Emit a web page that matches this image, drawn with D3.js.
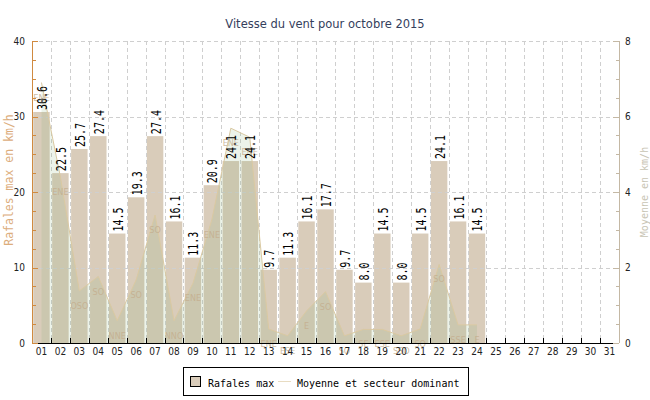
<!DOCTYPE html>
<html><head><meta charset="utf-8">
<script src="https://cdn.jsdelivr.net/npm/d3@7"></script>
<style>body{margin:0;background:#fff}svg{display:block}</style>
</head><body>
<svg id="c" width="650" height="400"></svg>
<script>
const days = ["01","02","03","04","05","06","07","08","09","10","11","12","13","14","15","16","17","18","19","20","21","22","23","24","25","26","27","28","29","30","31"];
const rafales = [30.6,22.5,25.7,27.4,14.5,19.3,27.4,16.1,11.3,20.9,24.1,24.1,9.7,11.3,16.1,17.7,9.7,8.0,14.5,8.0,14.5,24.1,16.1,14.5];
const moyenne = [6.9,4.4,1.38,1.76,0.59,1.67,3.39,0.59,1.58,3.27,5.69,5.45,0.37,0.19,0.85,1.36,0.19,0.36,0.36,0.19,0.37,2.08,0.48,0.48];
const secteurs = ["ENE","ENE","OSO","SO","NNE","SO","SO","NNO","ENE","ENE","ENE","ENE","ENE","ESE","E","SO","SO","SE","ESE","SSO","SO","SO","SSE","E"];
const leftTicks = [0,10,20,30,40];
const rightTicks = [0,2,4,6,8];
const title = "Vitesse du vent pour octobre 2015";
const leftTitle = "Rafales max en km/h";
const rightTitle = "Moyenne en km/h";
const legendLabels = ["Rafales max","Moyenne et secteur dominant"];

const L = 32, R = 619, T = 41, B = 343;
const svg = d3.select("#c");
const narrow = "'Liberation Sans Narrow','DejaVu Sans Condensed',sans-serif";
const mono = "'DejaVu Sans Mono',monospace";

const x = d3.scaleBand().domain(days).range([L, R]).paddingInner(0.13).paddingOuter(0.065);
const step = x.step();
const cx = d => x(d) + x.bandwidth() / 2;
const yL = d3.scaleLinear().domain([0, 40]).range([B, T]);
const yR = d3.scaleLinear().domain([0, 8]).range([B, T]);

// title
svg.append("text").attr("x", 325).attr("y", 28).attr("text-anchor", "middle")
  .attr("font-family", "'DejaVu Sans',sans-serif").attr("font-size", 11.5).attr("fill", "#34405c").text(title);

// bars
const barData = rafales.map((v, i) => ({d: days[i], v}));
svg.append("g").selectAll("rect").data(barData).join("rect")
  .attr("x", d => x(d.d)).attr("width", x.bandwidth())
  .attr("y", d => yL(d.v)).attr("height", d => B - yL(d.v))
  .attr("fill", "#d9ccba");

// grid
const grid = svg.append("g").attr("stroke", "#cfcfcf").attr("stroke-dasharray", "4,3").attr("shape-rendering", "crispEdges");
grid.selectAll("line.h").data(leftTicks.filter(t => t > 0)).join("line")
  .attr("x1", L).attr("x2", R).attr("y1", d => Math.round(yL(d)) + 0.5).attr("y2", d => Math.round(yL(d)) + 0.5);
grid.selectAll("line.v").data(days.slice(1)).join("line")
  .attr("x1", d => Math.round(x(d) - step * 0.065) + 0.5).attr("x2", d => Math.round(x(d) - step * 0.065) + 0.5)
  .attr("y1", T).attr("y2", B);

// area (moyenne)
const areaData = moyenne.map((v, i) => ({d: days[i], v}));
svg.append("path").datum(areaData)
  .attr("d", d3.area().x(d => cx(d.d)).y0(B).y1(d => yR(d.v)))
  .attr("fill", "rgb(128,175,115)").attr("fill-opacity", 0.15);
svg.append("path").datum(areaData)
  .attr("d", d3.line().x(d => cx(d.d)).y(d => yR(d.v)))
  .attr("fill", "none").attr("stroke", "#dac9a2").attr("stroke-width", 1);

// direction labels
svg.append("g").selectAll("text").data(areaData).join("text")
  .attr("x", d => cx(d.d)).attr("y", (d, i) => yR(d.v) + 18)
  .attr("text-anchor", "middle").attr("font-family", "'DejaVu Sans Condensed',sans-serif")
  .attr("font-size", 9).attr("fill", "#c4ae8e").attr("fill-opacity", 0.85)
  .text((d, i) => secteurs[i]);

// bar value labels
svg.append("g").selectAll("text").data(barData).join("text")
  .attr("transform", d => `translate(${cx(d.d) + 5.5},${yL(d.v) - 2}) rotate(-90) scale(1,1.38)`)
  .attr("font-family", mono).attr("font-size", 10).attr("fill", "#000")
  .text(d => d.v.toFixed(1));

// x axis
const xa = svg.append("g");
xa.append("line").attr("x1", L).attr("x2", R).attr("y1", B + 0.5).attr("y2", B + 0.5).attr("stroke", "#000");
xa.selectAll("line.t").data(days.slice(1)).join("line")
  .attr("x1", d => Math.round(x(d) - step * 0.065) + 0.5).attr("x2", d => Math.round(x(d) - step * 0.065) + 0.5)
  .attr("y1", B).attr("y2", B - 5).attr("stroke", "#000");
xa.selectAll("text").data(days).join("text")
  .attr("x", d => cx(d)).attr("y", 355).attr("text-anchor", "middle")
  .attr("font-family", narrow).attr("font-size", 10).attr("fill", "#222").text(d => d);

// left axis
const la = svg.append("g");
const lColor = "#d08a40";
la.append("line").attr("x1", L + 0.5).attr("x2", L + 0.5).attr("y1", T).attr("y2", B).attr("stroke", lColor);
la.selectAll("line.mn").data(d3.range(0, 40.01, 2.5)).join("line")
  .attr("x1", L).attr("x2", (d) => L + (d % 10 === 0 ? 6 : 4))
  .attr("y1", d => Math.round(yL(d)) + 0.5).attr("y2", d => Math.round(yL(d)) + 0.5).attr("stroke", lColor);
la.selectAll("text").data(leftTicks).join("text")
  .attr("x", 25).attr("y", d => yL(d) + 3.5).attr("text-anchor", "end")
  .attr("font-family", narrow).attr("font-size", 10).attr("fill", "#222").text(d => d);
svg.append("text").attr("transform", `translate(13,${(T + B) / 2 - 12}) rotate(-90)`)
  .attr("text-anchor", "middle").attr("font-family", mono).attr("font-size", 11.5)
  .attr("fill", "#dcad7c").text(leftTitle);

// right axis
const ra = svg.append("g");
const rColor = "#c4b8a4";
ra.append("line").attr("x1", R + 0.5).attr("x2", R + 0.5).attr("y1", T).attr("y2", B).attr("stroke", rColor);
ra.selectAll("line.mn").data(d3.range(0, 8.01, 0.5)).join("line")
  .attr("x1", R).attr("x2", d => R - (d % 2 === 0 ? 6 : 3))
  .attr("y1", d => Math.round(yR(d)) + 0.5).attr("y2", d => Math.round(yR(d)) + 0.5).attr("stroke", rColor);
ra.selectAll("text").data(rightTicks).join("text")
  .attr("x", 625).attr("y", d => yR(d) + 3.5).attr("text-anchor", "start")
  .attr("font-family", narrow).attr("font-size", 10).attr("fill", "#222").text(d => d);
svg.append("text").attr("transform", `translate(648,${(T + B) / 2}) rotate(-90)`)
  .attr("text-anchor", "middle").attr("font-family", mono).attr("font-size", 10)
  .attr("fill", "#c8c4b4").text(rightTitle);

// legend
const lg = svg.append("g");
lg.append("rect").attr("x", 183.5).attr("y", 367.5).attr("width", 285).attr("height", 28)
  .attr("fill", "#fff").attr("stroke", "#000");
lg.append("rect").attr("x", 190.5).attr("y", 376.5).attr("width", 10).attr("height", 10)
  .attr("fill", "#d9ccba").attr("stroke", "#000");
lg.append("text").attr("transform", "translate(208,386.5) scale(1,1.12)")
  .attr("font-family", mono).attr("font-size", 10).attr("fill", "#000").text(legendLabels[0]);
lg.append("line").attr("x1", 278).attr("x2", 291).attr("y1", 381.5).attr("y2", 381.5).attr("stroke", "#e8dcc2");
lg.append("text").attr("transform", "translate(297,386.5) scale(1,1.12)")
  .attr("font-family", mono).attr("font-size", 10).attr("fill", "#000").text(legendLabels[1]);
</script>
</body></html>
